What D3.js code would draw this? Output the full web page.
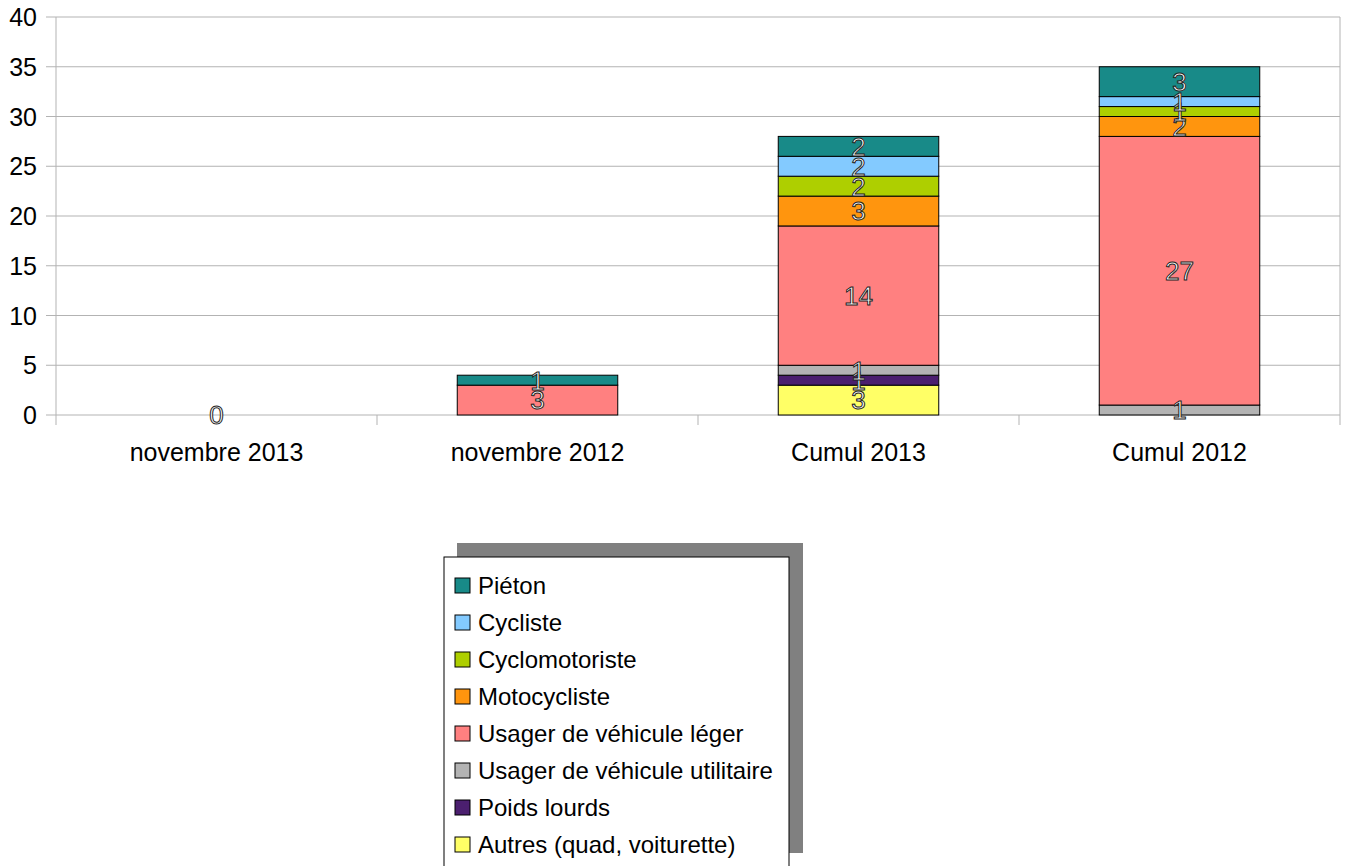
<!DOCTYPE html>
<html>
<head>
<meta charset="utf-8">
<script src="https://cdn.jsdelivr.net/npm/d3@7"></script>
<style>
  body { margin: 0; background: #fff; }
  text { font-family: "Liberation Sans", Arial, sans-serif; }
</style>
</head>
<body>
<div id="chart"></div>
<script>
// Chart data (stack order: bottom to top)
var categories = ["novembre 2013", "novembre 2012", "Cumul 2013", "Cumul 2012"];
var seriesNames = ["Autres (quad, voiturette)", "Poids lourds", "Usager de véhicule utilitaire",
  "Usager de véhicule léger", "Motocycliste", "Cyclomotoriste", "Cycliste", "Piéton"];
var seriesColors = ["#ffff66", "#4b1f6f", "#b3b3b3", "#ff8080", "#ff950e", "#aecf00", "#83caff", "#188a88"];
// one array per category, values in the stack order above (null = no value)
var nov2013 = [0, null, null, null, null, null, null, null];
var nov2012 = [null, null, null, 3, null, null, null, 1];
var cumul2013 = [3, 1, 1, 14, 3, 2, 2, 2];
var cumul2012 = [null, null, 1, 27, 2, 1, 1, 3];
var yTicks = [0, 5, 10, 15, 20, 25, 30, 35, 40];

var values = [nov2013, nov2012, cumul2013, cumul2012];

var svgWidth = 1348;
var svgHeight = 866;
var margin = { top: 17, left: 56 };
var width = 1340 - margin.left;
var height = 415 - margin.top;

var svg = d3.select("#chart").append("svg")
  .attr("width", svgWidth)
  .attr("height", svgHeight);

var chartGroup = svg.append("g")
  .attr("transform", `translate(${margin.left}, ${margin.top})`);

var xScale = d3.scaleBand().domain(categories).range([0, width]).paddingInner(0.5).paddingOuter(0.25);
var xEdges = d3.scaleLinear().domain([0, categories.length]).range([0, width]);
var yScale = d3.scaleLinear().domain([0, 40]).range([height, 0]);

// grid lines
chartGroup.selectAll(".grid").data(yTicks).enter().append("line")
  .attr("x1", -10).attr("x2", width)
  .attr("y1", d => yScale(d)).attr("y2", d => yScale(d))
  .attr("stroke", "#b3b3b3").attr("stroke-width", 1);

// left and right borders
chartGroup.append("line").attr("x1", 0).attr("x2", 0).attr("y1", 0).attr("y2", height + 10)
  .attr("stroke", "#b3b3b3");
chartGroup.append("line").attr("x1", width).attr("x2", width).attr("y1", 0).attr("y2", height + 10)
  .attr("stroke", "#b3b3b3");

// category ticks
chartGroup.selectAll(".ctick").data(d3.range(1, categories.length)).enter().append("line")
  .attr("x1", d => xEdges(d)).attr("x2", d => xEdges(d))
  .attr("y1", height).attr("y2", height + 10)
  .attr("stroke", "#b3b3b3");

// y tick labels
chartGroup.selectAll(".ylab").data(yTicks).enter().append("text")
  .attr("x", -19).attr("y", d => yScale(d))
  .attr("dy", "0.36em")
  .attr("text-anchor", "end")
  .attr("font-size", "25px")
  .attr("fill", "#000")
  .text(d => d);

// x labels
chartGroup.selectAll(".xlab").data(categories).enter().append("text")
  .attr("x", d => xScale(d) + xScale.bandwidth() / 2)
  .attr("y", height + 37)
  .attr("dy", "0.36em")
  .attr("text-anchor", "middle")
  .attr("font-size", "25px")
  .attr("fill", "#000")
  .text(d => d);

// build stacked segments
var segments = [];
categories.forEach(function(cat, ci) {
  var base = 0;
  seriesNames.forEach(function(name, si) {
    var v = values[ci][si];
    if (v === null) return;
    segments.push({ cat: cat, si: si, v: v, y0: base, y1: base + v });
    base += v;
  });
});

chartGroup.selectAll(".seg").data(segments.filter(d => d.v > 0)).enter().append("rect")
  .attr("x", d => xScale(d.cat))
  .attr("width", xScale.bandwidth())
  .attr("y", d => yScale(d.y1))
  .attr("height", d => yScale(d.y0) - yScale(d.y1))
  .attr("fill", d => seriesColors[d.si])
  .attr("stroke", "#000")
  .attr("stroke-width", 1);

// outlined value labels
chartGroup.selectAll(".vlab").data(segments).enter().append("text")
  .attr("x", d => xScale(d.cat) + xScale.bandwidth() / 2)
  .attr("y", d => yScale((d.y0 + d.y1) / 2))
  .attr("dy", "0.36em")
  .attr("text-anchor", "middle")
  .attr("font-size", "26px")
  .attr("fill", "#fff")
  .attr("stroke", "#222")
  .attr("stroke-width", 1)
  .text(d => d.v);

// legend
var legend = svg.append("g").attr("transform", "translate(444, 557)");
legend.append("rect").attr("x", 13).attr("y", -14).attr("width", 346).attr("height", 310).attr("fill", "#808080");
legend.append("rect").attr("x", 0).attr("y", 0).attr("width", 345).attr("height", 320)
  .attr("fill", "#fff").attr("stroke", "#000").attr("stroke-width", 1);

var legendOrder = seriesNames.map((n, i) => i).reverse();
var items = legend.selectAll(".item").data(legendOrder).enter().append("g")
  .attr("transform", (d, i) => `translate(11, ${28 + i * 37})`);
items.append("rect").attr("x", 0).attr("y", -7).attr("width", 15).attr("height", 15)
  .attr("fill", d => seriesColors[d]).attr("stroke", "#000").attr("stroke-width", 1);
items.append("text").attr("x", 23).attr("y", 0).attr("dy", "0.36em")
  .attr("font-size", "24px").attr("fill", "#000")
  .text(d => seriesNames[d]);
</script>
</body>
</html>
